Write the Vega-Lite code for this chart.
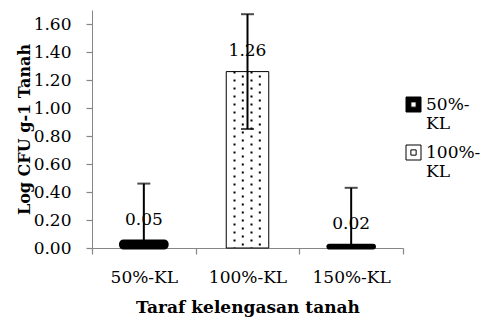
{
  "$schema": "https://vega.github.io/schema/vega-lite/v6.json",
  "width": 311,
  "height": 238,
  "autosize": "none",
  "padding": {"left": 92, "top": 10, "right": 86, "bottom": 72},
  "background": "white",
  "config": {
    "view": {"stroke": null},
    "font": "DejaVu Serif",
    "axis": {"labelFont": "DejaVu Serif", "titleFont": "DejaVu Serif", "labelColor": "black", "titleColor": "black", "domainColor": "#868686", "tickColor": "#868686", "grid": false, "ticks": true, "labelOverlap": false},
    "axisY": {"labelOverlap": false, "ticks": true},
    "legend": {"labelFont": "DejaVu Serif"}
  },
  "data": {
    "values": [
      {"cat": "50%-KL", "value": 0.05, "low": 0, "high": 0.46, "lowCap": null, "pattern": "solid"},
      {"cat": "100%-KL", "value": 1.26, "low": 0.85, "high": 1.67, "lowCap": 0.85, "pattern": "dotted"},
      {"cat": "150%-KL", "value": 0.02, "low": 0, "high": 0.43, "lowCap": null, "pattern": "solid"}
    ]
  },
  "encoding": {
    "x": {
      "field": "cat", "type": "nominal",
      "scale": {"domain": ["50%-KL", "100%-KL", "150%-KL"], "paddingInner": 0, "paddingOuter": 0},
      "axis": {
        "title": "Taraf kelengasan tanah", "titleFontWeight": "bold", "titleFontSize": 17,
        "titleX": 155.5, "titleY": 59, "titleBaseline": "middle", "titleAnchor": "middle",
        "labelAngle": 0, "labelFontSize": 17, "labelPadding": 15,
        "ticks": true, "tickSize": 6, "tickWidth": 1.2, "tickBand": "extent"
      }
    },
    "y": {
      "field": "value", "type": "quantitative", "title": "Log CFU g-1 Tanah",
      "scale": {"domain": [0, 1.7], "nice": false},
      "axis": {"titleFontWeight": "bold", "titleFontSize": 16, "titleX": -68, "titleY": 119, "titleBaseline": "middle", "titleAngle": -90,
               "values": [0, 0.2, 0.4, 0.6, 0.8, 1.0, 1.2, 1.4, 1.6], "format": ".2f", "labelFontSize": 17, "labelPadding": 15,
               "ticks": true, "tickSize": 6, "tickWidth": 1.2, "tickColor": "#868686",
               "labelOverlap": false}
    }
  },
  "layer": [
    {
      "transform": [{"filter": "datum.pattern == 'solid'"}],
      "mark": {"type": "bar", "width": {"band": 0.45}, "stroke": "black", "strokeWidth": 3, "cornerRadius": 3},
      "encoding": {
        "fill": {
          "field": "pattern", "type": "nominal",
          "scale": {"domain": ["solid", "dotted"], "range": ["black", "white"]},
          "legend": {
            "title": null, "orient": "none", "legendX": 313, "legendY": 86, "padding": 0,
            "symbolType": "M-1,-1H1V1H-1Z M-0.35,-0.35V0.35H0.35V-0.35Z",
            "symbolSize": 225, "symbolStrokeColor": "black", "symbolStrokeWidth": 1,
            "labelFontSize": 17, "labelColor": "black", "labelOffset": 4, "rowPadding": 11, "labelLimit": 200,
            "labelExpr": "datum.label == 'solid' ? ['50%-', 'KL'] : ['100%-', 'KL']"
          }
        }
      }
    },
    {
      "transform": [{"filter": "datum.pattern == 'dotted'"}],
      "mark": {"type": "bar", "width": {"band": 0.41}, "stroke": "black", "strokeWidth": 1},
      "encoding": {
        "fill": {"field": "pattern", "type": "nominal"}
      }
    },
    {
      "transform": [{"filter": "datum.pattern == 'dotted'"}],
      "mark": {"type": "rule", "xOffset": -13, "strokeDash": [2, 6], "strokeWidth": 2, "color": "black"},
      "encoding": {"y2": {"datum": 0}}
    },
    {
      "transform": [{"filter": "datum.pattern == 'dotted'"}],
      "mark": {"type": "rule", "xOffset": -4.7, "strokeDash": [2, 6], "strokeDashOffset": 4, "strokeWidth": 2, "color": "black"},
      "encoding": {"y2": {"datum": 0}}
    },
    {
      "transform": [{"filter": "datum.pattern == 'dotted'"}],
      "mark": {"type": "rule", "xOffset": 4, "strokeDash": [2, 6], "strokeWidth": 2, "color": "black"},
      "encoding": {"y2": {"datum": 0}}
    },
    {
      "transform": [{"filter": "datum.pattern == 'dotted'"}],
      "mark": {"type": "rule", "xOffset": 12.3, "strokeDash": [2, 6], "strokeDashOffset": 4, "strokeWidth": 2, "color": "black"},
      "encoding": {"y2": {"datum": 0}}
    },
    {
      "mark": {"type": "rule", "strokeWidth": 2, "color": "black"},
      "encoding": {"y": {"field": "low", "type": "quantitative", "title": "Log CFU g-1 Tanah"}, "y2": {"field": "high"}}
    },
    {
      "mark": {"type": "tick", "orient": "horizontal", "size": 13, "thickness": 2, "color": "black"},
      "encoding": {"y": {"field": "high", "type": "quantitative", "title": "Log CFU g-1 Tanah"}}
    },
    {
      "mark": {"type": "tick", "orient": "horizontal", "size": 13, "thickness": 2, "color": "black"},
      "encoding": {"y": {"field": "lowCap", "type": "quantitative", "title": "Log CFU g-1 Tanah"}}
    },
    {
      "mark": {"type": "text", "dy": -21, "fontSize": 17, "color": "black", "baseline": "middle"},
      "encoding": {
        "text": {"field": "value", "type": "quantitative", "format": ".2f"}
      }
    }
  ]
}
